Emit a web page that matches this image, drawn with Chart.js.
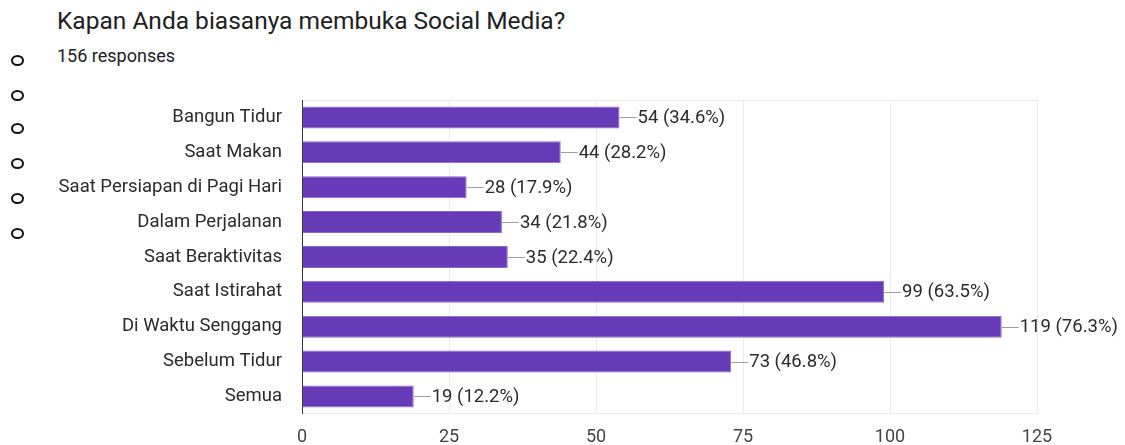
<!DOCTYPE html>
<html>
<head>
<meta charset="utf-8">
<script src="https://cdn.jsdelivr.net/npm/chart.js@4"></script>
<style>
  body { margin: 0; background: #fff; font-family: Roboto, sans-serif; }
  #wrap { position: relative; width: 1125px; height: 445px; overflow: hidden; }
  #title { position: absolute; left: 57px; top: 6px; font-size: 24.5px; color: #202124; white-space: nowrap; }
  #sub { position: absolute; left: 57px; top: 45px; font-size: 18px; color: #202124; white-space: nowrap; }
  .dot { position: absolute; left: 11px; width: 9px; height: 7px; border: 2px solid #111; border-radius: 50%; }
  #box { position: absolute; left: 0; top: 0; width: 1125px; height: 445px; }
</style>
</head>
<body>
<div id="wrap">
  <div id="title">Kapan Anda biasanya membuka Social Media?</div>
  <div id="sub">156 responses</div>
  <div class="dot" style="top:55px"></div>
  <div class="dot" style="top:90px"></div>
  <div class="dot" style="top:123px"></div>
  <div class="dot" style="top:158px"></div>
  <div class="dot" style="top:193px"></div>
  <div class="dot" style="top:228px"></div>
  <div id="box"><canvas id="chartAnswers"></canvas></div>
</div>
<script>
const categories = [
  "Bangun Tidur",
  "Saat Makan",
  "Saat Persiapan di Pagi Hari",
  "Dalam Perjalanan",
  "Saat Beraktivitas",
  "Saat Istirahat",
  "Di Waktu Senggang",
  "Sebelum Tidur",
  "Semua",
];
const counts = [54, 44, 28, 34, 35, 99, 119, 73, 19];
const totalResponses = 156;
const xTicks = [0, 25, 50, 75, 100, 125];

// leader line + "n (p%)" next to each bar
const barLabels = {
  id: "barLabels",
  afterDatasetsDraw(chart) {
    const ctx = chart.ctx;
    const meta = chart.getDatasetMeta(0);
    ctx.save();
    ctx.font = "18.5px Roboto";
    ctx.textBaseline = "middle";
    meta.data.forEach((bar, i) => {
      const v = counts[i];
      const pct = ((v / totalResponses) * 100).toFixed(1);
      ctx.strokeStyle = "#9e9e9e";
      ctx.lineWidth = 1;
      ctx.beginPath();
      ctx.moveTo(bar.x, Math.round(bar.y) + 0.5);
      ctx.lineTo(bar.x + 17, Math.round(bar.y) + 0.5);
      ctx.stroke();
      ctx.fillStyle = "#2b2b2b";
      ctx.fillText(v + " (" + pct + "%)", bar.x + 18, bar.y + 1);
    });
    ctx.restore();
  },
};

const chart = new Chart("chartAnswers", {
  type: "bar",
  data: {
    labels: categories,
    datasets: [
      {
        data: counts,
        backgroundColor: "#673ab7",
        borderColor: "#8a68c9",
        borderWidth: 1,
        barPercentage: 0.63,
        categoryPercentage: 1,
      },
    ],
  },
  plugins: [barLabels],
  options: {
    indexAxis: "y",
    responsive: true,
    maintainAspectRatio: false,
    animation: false,
    layout: { padding: { top: 100, right: 88, bottom: 0, left: 0 } },
    plugins: {
      legend: { display: false },
      tooltip: { enabled: false },
    },
    scales: {
      x: {
        min: 0,
        max: 125,
        afterBuildTicks(scale) {
          scale.ticks = xTicks.map((v) => ({ value: v }));
        },
        afterFit(scale) {
          scale.height = 30.5;
        },
        grid: { color: "#ebebeb", drawTicks: false },
        border: { color: "#ebebeb" },
        ticks: { padding: 13, color: "#444", font: { family: "Roboto", size: 18 } },
      },
      y: {
        afterFit(scale) {
          scale.width = 302;
        },
        grid: {
          drawTicks: false,
          color: (c) => (c.index === 0 || c.index === categories.length ? "#ebebeb" : "rgba(0,0,0,0)"),
        },
        border: { color: "#333", width: 1 },
        ticks: { padding: 20, color: "#2b2b2b", font: { family: "Roboto", size: 18.5 } },
      },
    },
  },
});
</script>
</body>
</html>
